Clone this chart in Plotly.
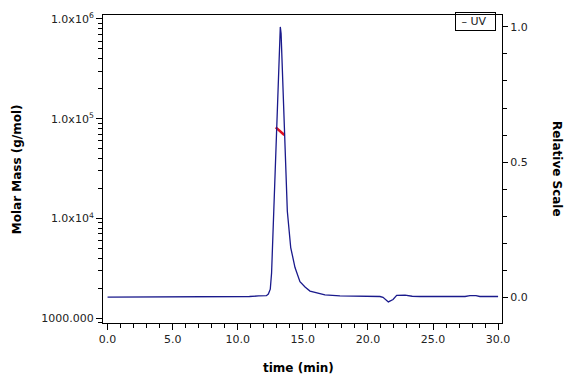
import plotly.graph_objects as go

# UV trace (relative scale)
uv_time = [0.0, 5.0, 10.0, 10.9, 11.6, 12.2, 12.35, 12.5, 12.6, 12.69, 12.81, 12.94, 13.07, 13.17,
           13.27, 13.33, 13.43, 13.53, 13.63, 13.81, 14.07, 14.40, 14.78, 15.17, 15.55, 16.07,
           16.7, 17.85, 20.16, 20.93, 21.16, 21.57, 21.93, 22.21, 22.85, 23.4, 24.0, 27.46,
           27.84, 28.3, 28.6, 30.0]
uv_value = [0.001, 0.001, 0.002, 0.003, 0.005, 0.006, 0.012, 0.03, 0.09, 0.22, 0.416, 0.536, 0.719, 0.90,
            1.0, 0.975, 0.843, 0.719, 0.536, 0.318, 0.184, 0.11, 0.058, 0.038, 0.023, 0.016,
            0.009, 0.005, 0.003, 0.003, 0.0, -0.017, -0.008, 0.007, 0.008, 0.004, 0.003, 0.003,
            0.006, 0.006, 0.003, 0.003]

# Molar mass segment
mm_time = [12.92, 13.25, 13.58]
mm_value = [81800, 74800, 68700]

y_tickvals = [1000, 1e4, 1e5, 1e6]
y_ticktext = ["1000.000", "1.0x10<sup>4</sup>", "1.0x10<sup>5</sup>", "1.0x10<sup>6</sup>"]

font = "DejaVu Sans"
y_range = [2.95, 6.04]

fig = go.Figure()
fig.add_trace(go.Scatter(x=uv_time, y=uv_value, mode="lines", yaxis="y2",
                         line=dict(color="#1a1a8c", width=1.3), name="UV"))
fig.add_trace(go.Scatter(x=mm_time, y=mm_value, mode="lines", yaxis="y",
                         line=dict(color="#e01020", width=2.6), name="Molar Mass"))
# invisible trace carrying the minor-tick log axis
fig.add_trace(go.Scatter(x=[mm_time[0]], y=[mm_value[0]], mode="markers", yaxis="y3",
                         marker=dict(opacity=0), hoverinfo="skip", showlegend=False))

fig.update_layout(
    width=576, height=384,
    margin=dict(l=103, r=74, t=11, b=61),
    paper_bgcolor="white", plot_bgcolor="white",
    showlegend=False,
    font=dict(family=font, size=11, color="#222222"),
    xaxis=dict(range=[-0.35, 30.3], tick0=0, dtick=5, tickformat=".1f",
               showgrid=False, zeroline=False, showline=True, linecolor="black", linewidth=1,
               mirror=True, ticks="outside", ticklen=6, tickcolor="black",
               minor=dict(dtick=1, ticks="outside", ticklen=4, tickcolor="black", showgrid=False)),
    yaxis=dict(type="log", range=y_range, tickmode="array", tickvals=y_tickvals, ticktext=y_ticktext,
               showgrid=False, zeroline=False, showline=True, linecolor="black", linewidth=1,
               ticks="outside", ticklen=6, tickcolor="black"),
    yaxis3=dict(type="log", range=y_range, overlaying="y", side="left", dtick="D1",
                showticklabels=False, showgrid=False, zeroline=False,
                ticks="outside", ticklen=4, tickcolor="black"),
    yaxis2=dict(overlaying="y", side="right", range=[-0.095, 1.044],
                dtick=0.5, tickformat=".1f",
                showgrid=False, zeroline=False, showline=True, linecolor="black", linewidth=1,
                ticks="outside", ticklen=5, tickcolor="black",
                minor=dict(dtick=0.1, ticks="outside", ticklen=4, tickcolor="black", showgrid=False)),
    annotations=[
        dict(text="<b>Molar Mass (g/mol)</b>", xref="paper", yref="paper", x=-0.215, y=0.5,
             textangle=-90, showarrow=False, font=dict(size=12, color="black", family=font),
             xanchor="center", yanchor="middle"),
        dict(text="<b>Relative Scale</b>", xref="paper", yref="paper", x=1.138, y=0.5,
             textangle=90, showarrow=False, font=dict(size=12, color="black", family=font),
             xanchor="center", yanchor="middle"),
        dict(text="<b>time (min)</b>", xref="paper", yref="paper", x=0.49, y=-0.145,
             showarrow=False, font=dict(size=12, color="black", family=font),
             xanchor="center", yanchor="middle"),
        dict(text="&nbsp;–&nbsp;UV&nbsp;&nbsp;", xref="paper", yref="paper", x=0.985, y=1.01,
             xanchor="right", yanchor="top", showarrow=False,
             bordercolor="black", borderwidth=1, borderpad=2,
             font=dict(size=11, color="#222222", family=font)),
    ],
)

fig.write_html("out.html")
